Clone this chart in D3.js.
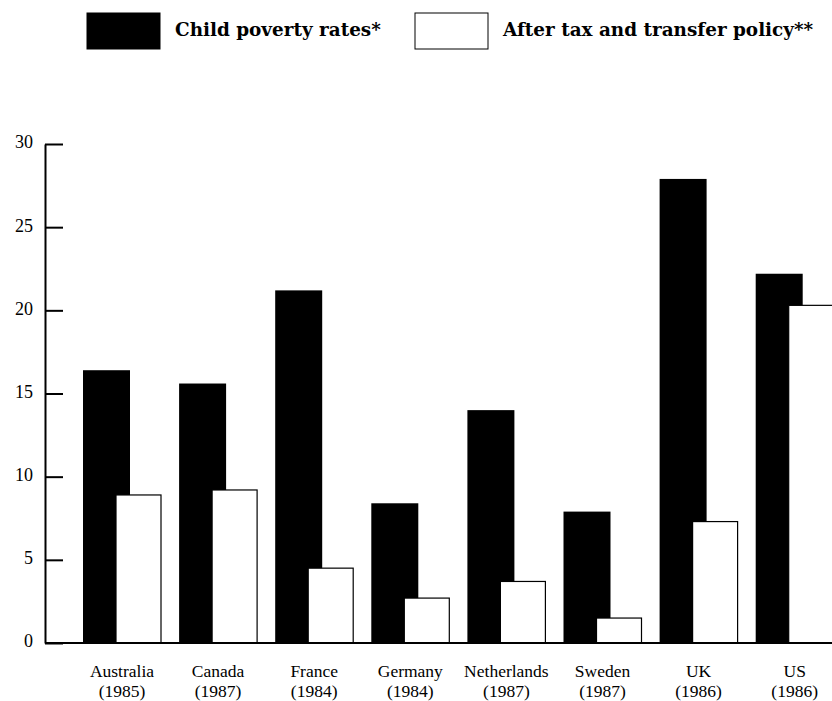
<!DOCTYPE html>
<html lang="en">
<head>
    <meta charset="UTF-8">
    <title>Child poverty rates</title>
    <script src="https://d3js.org/d3.v7.min.js"></script>
    <style>
        body {
            margin: 0;
            background: #fff;
        }
        svg {
            display: block;
        }
        .tick text {
            font-family: "Liberation Serif", serif;
            font-size: 18px;
            fill: #000;
        }
    </style>
</head>
<body>

    <div id="container"></div>

    <script>
        // data
        const countries = ['Australia', 'Canada', 'France', 'Germany', 'Netherlands', 'Sweden', 'UK', 'US'];
        const years = ['(1985)', '(1987)', '(1984)', '(1984)', '(1987)', '(1987)', '(1986)', '(1986)'];
        const povertyRates = [16.4, 15.6, 21.2, 8.4, 14.0, 7.9, 27.9, 22.2];
        const afterTransfer = [8.9, 9.2, 4.5, 2.7, 3.7, 1.5, 7.3, 20.3];
        const yTicks = [0, 5, 10, 15, 20, 25, 30];
        const legendLabels = ['Child poverty rates*', 'After tax and transfer policy**'];

        const width = 832;
        const height = 701;

        const svg = d3.select('#container')
            .append('svg')
            .attr('width', width)
            .attr('height', height);

        // scales
        const y = d3.scaleLinear()
            .domain([0, 30])
            .range([643, 144]);

        const x = d3.scaleBand()
            .domain(countries)
            .range([83, 83 + 8 * 96.1])
            .padding(0);

        const blackW = 47;
        const whiteOffset = 33;
        const whiteW = 45;

        const data = countries.map((c, i) => ({
            country: c,
            year: years[i],
            before: povertyRates[i],
            after: afterTransfer[i]
        }));

        // black bars first
        svg.selectAll('.bar-before')
            .data(data)
            .enter()
            .append('rect')
            .attr('class', 'bar-before')
            .attr('x', d => x(d.country))
            .attr('y', d => y(d.before))
            .attr('width', blackW)
            .attr('height', d => y(0) - y(d.before))
            .attr('fill', '#000');

        // white bars overlap the black ones
        svg.selectAll('.bar-after')
            .data(data)
            .enter()
            .append('rect')
            .attr('class', 'bar-after')
            .attr('x', d => x(d.country) + whiteOffset)
            .attr('y', d => y(d.after))
            .attr('width', whiteW)
            .attr('height', d => y(0) - y(d.after))
            .attr('fill', '#fff')
            .attr('stroke', '#000')
            .attr('stroke-width', 1.2);

        // baseline
        svg.append('line')
            .attr('x1', 45)
            .attr('x2', width)
            .attr('y1', y(0))
            .attr('y2', y(0))
            .attr('stroke', '#000')
            .attr('stroke-width', 2);

        // y axis with inward ticks
        const yAxis = d3.axisLeft(y)
            .tickValues(yTicks)
            .tickSize(-18)
            .tickSizeOuter(0)
            .tickPadding(12)
            .tickFormat(d3.format('d'));

        const gy = svg.append('g')
            .attr('transform', 'translate(45,0)')
            .call(yAxis);

        gy.select('.domain')
            .attr('stroke', '#000')
            .attr('stroke-width', 2);
        gy.selectAll('.tick line')
            .attr('stroke', '#000')
            .attr('stroke-width', 2);
        gy.selectAll('.tick text')
            .attr('dy', '0.22em');

        // category labels, two lines
        const labels = svg.selectAll('.cat-label')
            .data(data)
            .enter()
            .append('g')
            .attr('class', 'cat-label')
            .attr('transform', d => 'translate(' + (x(d.country) + (whiteOffset + whiteW) / 2) + ',0)');

        labels.append('text')
            .attr('x', 0)
            .attr('y', 677)
            .attr('text-anchor', 'middle')
            .style('font-family', '"Liberation Serif", serif')
            .style('font-size', '17.5px')
            .text(d => d.country);

        labels.append('text')
            .attr('x', 0)
            .attr('y', 697)
            .attr('text-anchor', 'middle')
            .style('font-family', '"Liberation Serif", serif')
            .style('font-size', '17.5px')
            .text(d => d.year);

        // legend
        const legendX = [87, 415];
        const legendFill = ['#000', '#fff'];

        const legend = svg.selectAll('.legend')
            .data(legendLabels)
            .enter()
            .append('g')
            .attr('class', 'legend')
            .attr('transform', (d, i) => 'translate(' + legendX[i] + ',13)');

        legend.append('rect')
            .attr('width', 73)
            .attr('height', 36)
            .attr('fill', (d, i) => legendFill[i])
            .attr('stroke', '#000')
            .attr('stroke-width', 1);

        legend.append('text')
            .attr('x', 88)
            .attr('y', 23)
            .style('font-family', '"DejaVu Serif", serif')
            .style('font-size', '18.4px')
            .style('font-weight', 'bold')
            .text(d => d);
    </script>

</body>
</html>
